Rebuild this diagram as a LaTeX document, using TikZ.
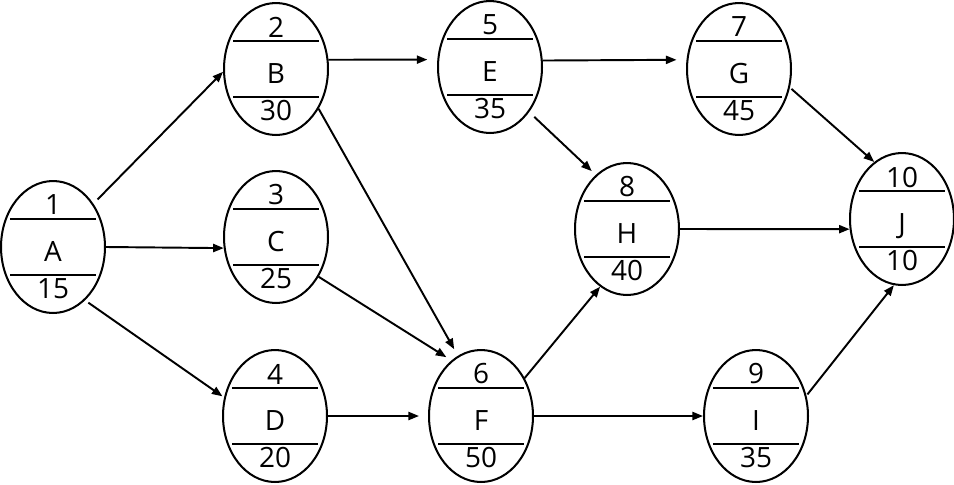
\documentclass[tikz,border=0pt]{standalone}
\usepackage{fontspec}
\setmainfont{Open Sans}
\usetikzlibrary{shapes.geometric}
\usetikzlibrary{arrows.meta}
\tikzset{>={Triangle[length=6pt,width=4.6pt]}}
\tikzset{
	% activity node
	act/.style={ellipse,draw,line width=1.15pt,minimum width=2.08cm,minimum height=2.64cm,inner sep=0pt,text height=16.5pt,text depth=0pt},
	% arrow style
	link/.style={->,line width=1.1pt},
	top/.style={yshift=0.84cm},
	bot/.style={yshift=-0.84cm},
}

\begin{document}
\begin{tikzpicture}[x=0.02cm,y=-0.02cm,font=\fontsize{15.9}{19}\selectfont]
\useasboundingbox (0,0) rectangle (954,484);
% the activities
\node[act,label={[top]center:1},label={[bot]center:15}] (A) at (53,247) {A};
\node[act,label={[top]center:2},label={[bot]center:30}] (B) at (276,69) {B};
\node[act,label={[top]center:3},label={[bot]center:25}] (C) at (276,237) {C};
\node[act,label={[top]center:4},label={[bot]center:20}] (D) at (275,416) {D};
\node[act,label={[top]center:5},label={[bot]center:35}] (E) at (490,67) {E};
\node[act,label={[top]center:6},label={[bot]center:50}] (F) at (481,416) {F};
\node[act,label={[top]center:7},label={[bot]center:45}] (G) at (739,69) {G};
\node[act,label={[top]center:8},label={[bot]center:40}] (H) at (627,229) {H};
\node[act,label={[top]center:9},label={[bot]center:35}] (I) at (756,416) {I};
\node[act,label={[top]center:10},label={[bot]center:10}] (J) at (902,219) {J};
% the dividing lines
\foreach \n in {A,B,C,D,E,F,G,H,I,J}
{
  \draw[line width=1.15pt] ([shift={(-43,-28)}]\n.center) -- ([shift={(43,-28)}]\n.center);
  \draw[line width=1.15pt] ([shift={(-43,28)}]\n.center) -- ([shift={(43,28)}]\n.center);
}
% the arrows
\draw[link,shorten <=0.12cm] (A.47) -- (B.183);
\draw[link] (A.0) -- (C.192);
\draw[link,shorten <=0.08cm,shorten >=0.04cm] (A.-59) -- (D.160);
\draw[link,shorten >=0.2cm] (B.10) -- (E.172);
\draw[link,shorten >=0.15cm] (B.-43) -- (F.111);
\draw[link,shorten >=0.12cm] (C.-43) -- (F.118);
\draw[link,shorten >=0.18cm] (D.0) -- (F.180);
\draw[link,shorten >=0.2cm] (E.7) -- (G.170);
\draw[link,shorten <=0.14cm,shorten >=0.11cm] (E.-49) -- (H.120);
\draw[link] (F.41) -- (H.245);
\draw[link] (F.0) -- (I.180);
\draw[link,shorten <=0.04cm] (G.-20) -- (J.116);
\draw[link] (H.0) -- (J.191);
\draw[link,shorten <=0.03cm] (I.22) -- (J.263);
\end{tikzpicture}
\end{document}
